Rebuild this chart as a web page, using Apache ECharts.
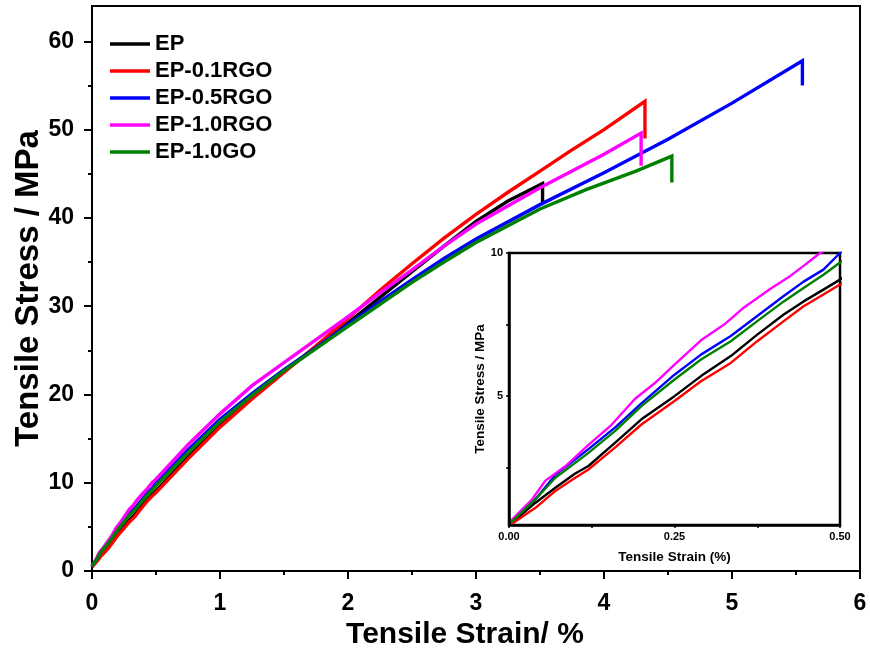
<!DOCTYPE html>
<html>
<head>
<meta charset="utf-8">
<script src="https://cdn.jsdelivr.net/npm/echarts@6/dist/echarts.min.js"></script>
<style>
  html, body { margin: 0; padding: 0; background: #fff; }
  #chart { width: 870px; height: 654px; }
</style>
</head>
<body>
<div id="chart"></div>
<script>
// Tensile stress-strain curves, [strain %, stress MPa]
const EP = [[0,0.49],[0.04,1.28],[0.07,1.8],[0.1,2.3],[0.12,2.56],[0.16,3.37],[0.2,4.19],[0.25,5.0],[0.29,5.7],[0.335,6.4],[0.375,7.15],[0.415,7.85],[0.445,8.31],[0.475,8.72],[0.5,9.07],[0.75,12.9],[1.0,16.6],[1.25,19.7],[1.5,22.6],[1.75,25.3],[2.0,28.1],[2.25,31.0],[2.5,33.9],[2.75,36.8],[3.0,39.6],[3.25,41.9],[3.52,43.9],[3.52,41.6]];
const EP_01RGO = [[0,0.47],[0.04,1.1],[0.07,1.69],[0.1,2.15],[0.12,2.44],[0.16,3.2],[0.2,4.01],[0.25,4.83],[0.29,5.52],[0.335,6.16],[0.375,6.92],[0.415,7.62],[0.445,8.14],[0.475,8.55],[0.5,8.9],[0.75,12.7],[1.0,16.3],[1.25,19.5],[1.5,22.5],[1.75,25.5],[2.0,28.6],[2.25,31.8],[2.5,34.8],[2.75,37.7],[3.0,40.4],[3.25,42.9],[3.5,45.3],[3.75,47.7],[4.0,50.0],[4.32,53.2],[4.32,49.0]];
const EP_05RGO = [[0,0.56],[0.04,1.4],[0.07,2.25],[0.12,3.15],[0.16,3.9],[0.2,4.75],[0.25,5.75],[0.29,6.45],[0.335,7.1],[0.375,7.8],[0.415,8.5],[0.445,9.0],[0.475,9.42],[0.5,10.0],[0.75,13.7],[1.0,17.2],[1.25,20.1],[1.5,22.8],[1.75,25.3],[2.0,27.9],[2.25,30.5],[2.5,33.0],[2.75,35.4],[3.0,37.6],[3.5,41.5],[4.0,45.1],[4.5,48.9],[5.0,53.0],[5.55,57.8],[5.55,55.0]];
const EP_10RGO = [[0,0.58],[0.035,1.4],[0.055,2.05],[0.085,2.55],[0.12,3.3],[0.155,4.0],[0.19,4.9],[0.22,5.45],[0.25,6.1],[0.29,6.95],[0.325,7.5],[0.355,8.1],[0.395,8.75],[0.425,9.2],[0.445,9.55],[0.47,10.0],[0.5,10.4],[0.75,14.3],[1.0,17.8],[1.25,21.0],[1.5,23.6],[1.75,26.2],[2.0,28.8],[2.25,31.5],[2.5,34.1],[2.75,36.8],[3.0,39.3],[3.5,43.4],[4.0,47.2],[4.29,49.6],[4.29,45.9]];
const EP_10GO = [[0,0.52],[0.04,1.4],[0.07,2.15],[0.12,3.02],[0.16,3.78],[0.2,4.65],[0.25,5.58],[0.29,6.28],[0.335,6.92],[0.375,7.62],[0.415,8.31],[0.445,8.78],[0.475,9.24],[0.5,9.67],[0.75,13.4],[1.0,16.9],[1.25,19.9],[1.5,22.7],[1.75,25.2],[2.0,27.7],[2.25,30.2],[2.5,32.7],[2.75,35.0],[3.0,37.2],[3.5,41.0],[3.86,43.2],[4.25,45.3],[4.53,47.0],[4.53,44.0]];

const SERIES_NAMES = ['EP', 'EP-0.1RGO', 'EP-0.5RGO', 'EP-1.0RGO', 'EP-1.0GO'];
const SERIES_DATA = [EP, EP_01RGO, EP_05RGO, EP_10RGO, EP_10GO];
const SERIES_COLORS = ['#000000', '#ff0000', '#0000ff', '#ff00ff', '#008000'];

// Main axes ticks
const MAIN_Y_MAJOR = [0, 10, 20, 30, 40, 50, 60];
const MAIN_Y_MINOR = [5, 15, 25, 35, 45, 55];
// Inset axes ticks
const INSET_X_LABELS = [0, 0.25, 0.5];
const INSET_X_TICKS = [0, 0.125, 0.25, 0.375, 0.5];
const INSET_Y_LABELS = [5, 10];
const INSET_Y_TICKS = [2.5, 5, 7.5, 10];

const FONT = '"Liberation Sans", Arial, Helvetica, sans-serif';
const BLACK = '#000';

const chart = echarts.init(document.getElementById('chart'), null, { renderer: 'canvas' });

const mainSeries = SERIES_NAMES.map((name, i) => ({
  name,
  type: 'line',
  xAxisIndex: 0,
  yAxisIndex: 0,
  data: SERIES_DATA[i],
  showSymbol: false,
  symbol: 'none',
  color: SERIES_COLORS[i],
  lineStyle: { color: SERIES_COLORS[i], width: 3.4, join: 'miter' },
  z: 2 + i,
  animation: false
}));

const insetSeries = SERIES_NAMES.map((name, i) => ({
  name,
  type: 'line',
  xAxisIndex: 1,
  yAxisIndex: 2,
  data: SERIES_DATA[i],
  showSymbol: false,
  symbol: 'none',
  clip: true,
  color: SERIES_COLORS[i],
  lineStyle: { color: SERIES_COLORS[i], width: 2.4 },
  z: 12 + i,
  animation: false
}));

const option = {
  backgroundColor: '#fff',
  animation: false,
  legend: {
    orient: 'vertical',
    left: 105,
    top: 28,
    icon: 'rect',
    itemWidth: 40,
    itemHeight: 3.5,
    itemGap: 5,
    data: SERIES_NAMES,
    textStyle: { fontFamily: FONT, fontWeight: 'bold', fontSize: 22, lineHeight: 22, color: BLACK }
  },
  grid: [
    { left: 92, right: 10, top: 6, bottom: 83, show: true, borderColor: BLACK, borderWidth: 2, containLabel: false, outerBoundsMode: 'none' },
    { left: 509, top: 253, width: 331, height: 272, show: true, backgroundColor: '#fff', borderColor: BLACK, borderWidth: 2.5, z: 10, containLabel: false, outerBoundsMode: 'none' }
  ],
  xAxis: [
    {
      gridIndex: 0, type: 'value', min: 0, max: 6, interval: 1,
      axisLine: { lineStyle: { color: BLACK, width: 2 } },
      axisTick: { inside: false, length: 8, lineStyle: { color: BLACK, width: 2 } },
      minorTick: { show: true, splitNumber: 2, length: 4, lineStyle: { color: BLACK, width: 2 } },
      splitLine: { show: false },
      axisLabel: { margin: 21, color: BLACK, fontFamily: FONT, fontWeight: 'bold', fontSize: 23 },
      name: 'Tensile Strain/ %', nameLocation: 'middle', nameGap: 47,
      nameTextStyle: { color: BLACK, fontFamily: FONT, fontWeight: 'bold', fontSize: 30, padding: [0, 22, 0, 0] }
    },
    {
      gridIndex: 1, type: 'value', min: 0, max: 0.5,
      axisLine: { lineStyle: { color: BLACK, width: 2.5 } },
      axisTick: { inside: false, length: 3, customValues: INSET_X_TICKS, lineStyle: { color: BLACK, width: 1.5 } },
      splitLine: { show: false },
      axisLabel: { margin: 6, customValues: INSET_X_LABELS, formatter: v => v.toFixed(2), color: BLACK, fontFamily: FONT, fontWeight: 'bold', fontSize: 11 },
      name: 'Tensile Strain (%)', nameLocation: 'middle', nameGap: 25,
      nameTextStyle: { color: BLACK, fontFamily: FONT, fontWeight: 'bold', fontSize: 13.5 },
      z: 20
    }
  ],
  yAxis: [
    {
      gridIndex: 0, type: 'value', min: 0, max: 64, position: 'left',
      axisLine: { lineStyle: { color: BLACK, width: 2 } },
      axisTick: { inside: false, length: 8, customValues: MAIN_Y_MAJOR, lineStyle: { color: BLACK, width: 2 } },
      splitLine: { show: false },
      axisLabel: { margin: 18, customValues: MAIN_Y_MAJOR, color: BLACK, fontFamily: FONT, fontWeight: 'bold', fontSize: 23 },
      name: 'Tensile Stress / MPa', nameLocation: 'middle', nameGap: 47, nameRotate: 90,
      nameMoveOverlap: false,
      nameTextStyle: { color: BLACK, fontFamily: FONT, fontWeight: 'bold', fontSize: 33 }
    },
    {
      gridIndex: 0, type: 'value', min: 0, max: 64, position: 'left', offset: 0,
      axisLine: { show: false },
      axisTick: { inside: false, length: 4, customValues: MAIN_Y_MINOR, lineStyle: { color: BLACK, width: 2 } },
      splitLine: { show: false },
      axisLabel: { show: false }
    },
    {
      gridIndex: 1, type: 'value', min: 0.5, max: 10,
      axisLine: { lineStyle: { color: BLACK, width: 2.5 } },
      axisTick: { inside: false, length: 3, customValues: INSET_Y_TICKS, lineStyle: { color: BLACK, width: 1.5 } },
      splitLine: { show: false },
      axisLabel: { margin: 6, customValues: INSET_Y_LABELS, color: BLACK, fontFamily: FONT, fontWeight: 'bold', fontSize: 11 },
      name: 'Tensile Stress / MPa', nameLocation: 'middle', nameGap: 20, nameRotate: 90,
      nameTextStyle: { color: BLACK, fontFamily: FONT, fontWeight: 'bold', fontSize: 13.5 },
      z: 20
    }
  ],
  series: mainSeries.concat(insetSeries)
};

chart.setOption(option);
</script>
</body>
</html>
